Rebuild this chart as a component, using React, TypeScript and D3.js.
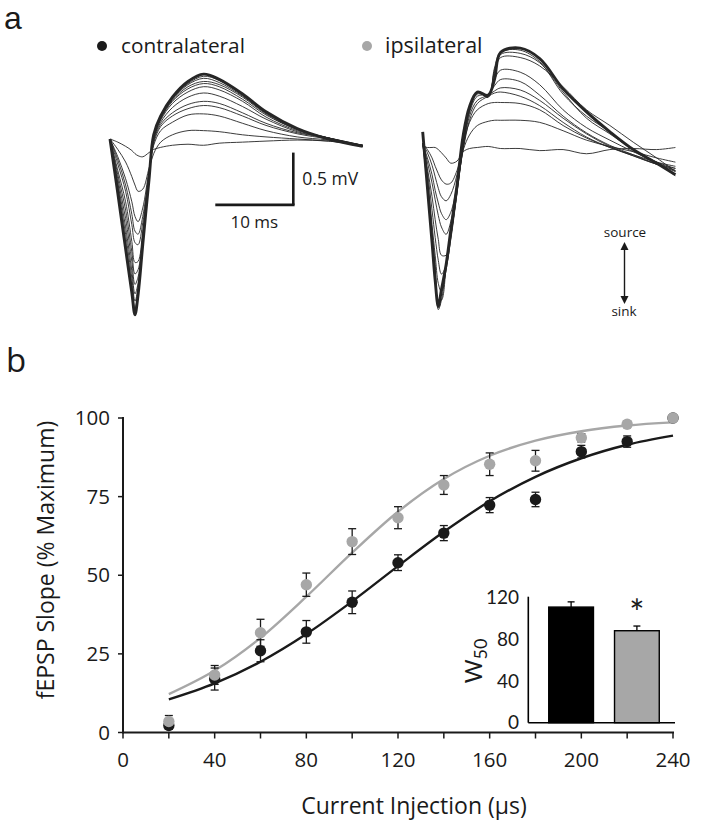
import React from 'react';
import * as d3 from 'd3';

// ---------- Panel a: field potential traces (time in ms, voltage in mV) ----------
const leftTime = [0, 1, 2, 2.8, 3.2, 3.6, 4.2, 5, 5.6, 6.5, 8, 10, 12, 14, 17, 20, 24, 28, 32.4];
const contraTraces = [
  [0, -0.03, -0.07, -0.11, -0.14, -0.16, -0.17, -0.13, -0.10, -0.08, -0.06, -0.05, -0.06, -0.04, -0.03, -0.02, -0.01, -0.02, -0.06],
  [0, -0.10, -0.22, -0.36, -0.44, -0.50, -0.48, -0.28, -0.14, -0.03, 0.04, 0.08, 0.08, 0.07, 0.04, 0.02, 0.00, -0.02, -0.06],
  [0, -0.17, -0.38, -0.60, -0.74, -0.79, -0.66, -0.30, -0.06, 0.08, 0.16, 0.23, 0.24, 0.22, 0.15, 0.08, 0.02, -0.01, -0.06],
  [0, -0.20, -0.44, -0.72, -0.88, -0.91, -0.74, -0.33, -0.04, 0.12, 0.22, 0.29, 0.32, 0.30, 0.22, 0.13, 0.05, 0.00, -0.06],
  [0, -0.24, -0.50, -0.82, -0.99, -1.01, -0.80, -0.34, -0.02, 0.14, 0.25, 0.33, 0.36, 0.34, 0.25, 0.15, 0.06, 0.01, -0.06],
  [0, -0.30, -0.60, -0.98, -1.18, -1.17, -0.88, -0.36, 0.00, 0.16, 0.30, 0.40, 0.44, 0.41, 0.31, 0.19, 0.07, 0.01, -0.06],
  [0, -0.34, -0.68, -1.08, -1.29, -1.25, -0.92, -0.37, 0.01, 0.18, 0.34, 0.45, 0.50, 0.47, 0.36, 0.21, 0.08, 0.01, -0.07],
  [0, -0.38, -0.76, -1.17, -1.39, -1.32, -0.95, -0.38, 0.02, 0.19, 0.36, 0.48, 0.53, 0.50, 0.38, 0.23, 0.09, 0.01, -0.07],
  [0, -0.42, -0.84, -1.26, -1.48, -1.38, -0.97, -0.38, 0.02, 0.20, 0.37, 0.50, 0.55, 0.52, 0.40, 0.24, 0.09, 0.01, -0.07],
  [0, -0.45, -0.91, -1.33, -1.55, -1.42, -0.99, -0.39, 0.03, 0.21, 0.38, 0.52, 0.58, 0.54, 0.41, 0.25, 0.10, 0.00, -0.07],
  [0, -0.49, -0.98, -1.40, -1.62, -1.46, -1.00, -0.39, 0.03, 0.22, 0.39, 0.53, 0.60, 0.56, 0.42, 0.25, 0.10, 0.00, -0.07],
];
const contraThick = [0, -0.52, -1.05, -1.47, -1.68, -1.49, -1.01, -0.39, 0.04, 0.22, 0.40, 0.55, 0.62, 0.57, 0.43, 0.26, 0.10, 0.00, -0.07];

const rightTime = [0, 0.6, 1.2, 1.6, 2.0, 2.4, 3.0, 3.6, 4.4, 5.2, 6.0, 7.0, 8.4, 9.2, 10, 12.5, 15, 18, 21, 24, 27, 30, 32.4];
const ipsiTraces = [
  [-0.03, -0.04, -0.04, -0.04, -0.06, -0.09, -0.14, -0.19, -0.17, -0.08, -0.05, -0.04, -0.03, -0.04, -0.05, -0.05, -0.07, -0.06, -0.10, -0.06, -0.05, -0.06, -0.04],
  [0.00, -0.06, -0.14, -0.22, -0.29, -0.35, -0.39, -0.38, -0.26, -0.06, 0.08, 0.17, 0.21, 0.22, 0.22, 0.22, 0.20, 0.12, 0.03, -0.03, -0.08, -0.14, -0.18],
  [0.00, -0.09, -0.21, -0.32, -0.43, -0.51, -0.55, -0.49, -0.30, -0.02, 0.20, 0.32, 0.38, 0.39, 0.39, 0.38, 0.32, 0.17, 0.05, -0.04, -0.11, -0.18, -0.22],
  [0.00, -0.14, -0.30, -0.45, -0.57, -0.67, -0.73, -0.66, -0.40, -0.06, 0.22, 0.38, 0.45, 0.48, 0.49, 0.45, 0.36, 0.20, 0.06, -0.04, -0.12, -0.20, -0.26],
  [0.00, -0.18, -0.38, -0.54, -0.69, -0.80, -0.87, -0.75, -0.43, -0.04, 0.26, 0.41, 0.46, 0.50, 0.53, 0.51, 0.41, 0.24, 0.09, -0.03, -0.12, -0.20, -0.24],
  [0.00, -0.24, -0.51, -0.73, -0.92, -1.07, -1.07, -0.88, -0.47, -0.03, 0.29, 0.45, 0.47, 0.55, 0.61, 0.59, 0.46, 0.26, 0.10, -0.02, -0.11, -0.20, -0.27],
  [0.00, -0.27, -0.64, -0.90, -1.12, -1.25, -1.17, -0.92, -0.48, -0.02, 0.31, 0.47, 0.46, 0.61, 0.70, 0.68, 0.56, 0.32, 0.15, 0.03, -0.08, -0.18, -0.24],
  [0.00, -0.33, -0.78, -1.07, -1.34, -1.42, -1.21, -0.91, -0.46, 0.01, 0.32, 0.48, 0.45, 0.68, 0.82, 0.82, 0.74, 0.54, 0.32, 0.17, 0.01, -0.14, -0.27],
  [0.00, -0.37, -0.85, -1.16, -1.50, -1.50, -1.19, -0.86, -0.43, 0.03, 0.34, 0.49, 0.44, 0.70, 0.85, 0.86, 0.77, 0.49, 0.24, 0.09, -0.06, -0.19, -0.31],
  [0.00, -0.41, -0.91, -1.23, -1.59, -1.50, -1.17, -0.85, -0.43, 0.05, 0.34, 0.49, 0.44, 0.72, 0.87, 0.89, 0.78, 0.47, 0.26, 0.11, -0.06, -0.18, -0.26],
];
const ipsiThick = [0.11, -0.42, -0.95, -1.31, -1.56, -1.40, -1.16, -0.83, -0.40, 0.08, 0.35, 0.49, 0.46, 0.61, 0.87, 0.91, 0.81, 0.52, 0.30, 0.11, -0.06, -0.19, -0.30];

const scaleBarMs = 10;
const scaleBarMv = 0.5;

// ---------- Panel b: input/output curve ----------
const currents = [20, 40, 60, 80, 100, 120, 140, 160, 180, 200, 220, 240];
const contraMean = [2.2, 17, 26, 32, 41.4, 54, 63.4, 72.3, 74.1, 89.3, 92.5, 100];
const contraSem = [1.2, 3.5, 3.5, 3.6, 3.6, 2.5, 2.4, 2.4, 2.3, 2.0, 1.8, 0];
const ipsiMean = [3.5, 18.3, 31.7, 47, 60.7, 68.3, 78.7, 85.3, 86.4, 93.7, 98, 100];
const ipsiSem = [1.9, 3.0, 4.3, 3.7, 4.1, 3.5, 3.0, 3.6, 3.3, 1.3, 1.0, 0.5];
const contraFit = [10.5, 15.6, 22.5, 31.3, 41.7, 52.9, 63.8, 73.5, 81.3, 87.2, 91.5, 94.4];
const ipsiFit = [12.2, 19.7, 30.1, 43.2, 57.2, 70.2, 80.6, 88.0, 92.8, 95.8, 97.6, 98.6];
const xTicks = [0, 20, 40, 60, 80, 100, 120, 140, 160, 180, 200, 220, 240];
const xLabels = [0, 40, 80, 120, 160, 200, 240];
const yTicks = [0, 25, 50, 75, 100];

// ---------- Inset: W50 ----------
const w50Groups = ['contralateral', 'ipsilateral'];
const w50Mean = [111, 88.3];
const w50Sem = [5, 4.5];
const w50Ticks = [0, 40, 80, 120];

const BLACK = '#1a1a1a';
const GRAY = '#a7a7a7';
const FONT = "'Open Sans', 'Noto Sans', sans-serif";
const INSET_FONT = "Lato, 'Open Sans', sans-serif";

export default function App() {
  // Panel a scales
  const pxPerMs = 7.8;
  const pxPerMv = 104.6;
  const lx = d3.scaleLinear().domain([0, 32.4]).range([110, 110 + pxPerMs * 32.4]);
  const ly = d3.scaleLinear().domain([0, 1]).range([139, 139 - pxPerMv]);
  const rx = d3.scaleLinear().domain([0, 32.4]).range([422.7, 422.7 + pxPerMs * 32.4]);
  const ry = d3.scaleLinear().domain([0, 1]).range([143.3, 143.3 - pxPerMv]);

  const traceLine = (xs: d3.ScaleLinear<number, number>, ys: d3.ScaleLinear<number, number>, t: number[]) =>
    d3.line<number>()
      .x((_, i) => xs(t[i]))
      .y((v) => ys(v))
      .curve(d3.curveCatmullRom.alpha(0.5));

  const leftLine = traceLine(lx, ly, leftTime);
  const rightLine = traceLine(rx, ry, rightTime);

  // Panel b scales
  const x = d3.scaleLinear().domain([0, 240]).range([123, 673]);
  const y = d3.scaleLinear().domain([0, 100]).range([732.5, 418]);
  const fitLine = d3.line<number>()
    .x((_, i) => x(currents[i]))
    .y((v) => y(v))
    .curve(d3.curveMonotoneX);

  // Inset scales
  const ix = d3.scaleBand<string>().domain(w50Groups).range([529, 679]).paddingInner(0.32).paddingOuter(0.3);
  const iy = d3.scaleLinear().domain([0, 120]).range([722.7, 597.7]);

  const sbT0 = 13.5;
  const sbV = -0.63;

  const renderSeries = (means: number[], sems: number[], color: string, key: string) => (
    <g key={key}>
      {means.map((m, i) => {
        const cx = x(currents[i]);
        const top = y(m + sems[i]);
        const bot = y(m - sems[i]);
        return (
          <g key={i}>
            {sems[i] > 0 && (
              <g stroke={BLACK} strokeWidth={1.3}>
                <line x1={cx} x2={cx} y1={top} y2={bot} />
                <line x1={cx - 4} x2={cx + 4} y1={top} y2={top} />
                <line x1={cx - 4} x2={cx + 4} y1={bot} y2={bot} />
              </g>
            )}
            <circle cx={cx} cy={y(m)} r={5.7} fill={color} />
          </g>
        );
      })}
    </g>
  );

  return (
    <svg width={704} height={832} style={{ position: 'absolute', left: 0, top: 0, background: '#fff' }}
      fontFamily={FONT}>
      <rect width={704} height={832} fill="#fff" />
      {/* Panel labels */}
      <text x={4} y={29} fontSize={32} fontFamily="'Liberation Sans', Arial, sans-serif" fill={BLACK}>a</text>
      <text x={6} y={372} fontSize={33} fill={BLACK}>b</text>

      {/* Legend */}
      <circle cx={102} cy={46} r={5} fill={BLACK} />
      <text x={121} y={53} fontSize={20.8} fill={BLACK}>contralateral</text>
      <circle cx={367} cy={46} r={5} fill={GRAY} />
      <text x={385} y={53} fontSize={21.5} fill={BLACK}>ipsilateral</text>

      {/* Left traces */}
      <g fill="none" stroke="#262626" strokeLinejoin="round">
        {contraTraces.map((tr, i) => (
          <path key={i} d={leftLine(tr) || ''} strokeWidth={0.9} />
        ))}
        <path d={leftLine(contraThick) || ''} strokeWidth={2.9} />
      </g>
      {/* Right traces */}
      <g fill="none" stroke="#262626" strokeLinejoin="round">
        {ipsiTraces.map((tr, i) => (
          <path key={i} d={rightLine(tr) || ''} strokeWidth={0.9} />
        ))}
        <path d={rightLine(ipsiThick) || ''} strokeWidth={2.9} />
      </g>

      {/* Scale bar */}
      <g stroke={BLACK} strokeWidth={2.6} fill="none">
        <line x1={lx(sbT0)} x2={lx(sbT0 + scaleBarMs) + 1.3} y1={ly(sbV)} y2={ly(sbV)} />
        <line x1={lx(sbT0 + scaleBarMs)} x2={lx(sbT0 + scaleBarMs)} y1={ly(sbV)} y2={ly(sbV + scaleBarMv)} />
      </g>
      <text x={lx(sbT0 + scaleBarMs) + 9} y={ly(sbV + scaleBarMv / 2) + 6} fontSize={17.5} fill={BLACK}>0.5 mV</text>
      <text x={lx(sbT0 + scaleBarMs / 2)} y={ly(sbV) + 23} fontSize={17} fill={BLACK} textAnchor="middle">10 ms</text>

      {/* source / sink arrow */}
      <text x={625} y={237} fontSize={13.5} fill={BLACK} textAnchor="middle">source</text>
      <text x={624} y={316} fontSize={13.5} fill={BLACK} textAnchor="middle">sink</text>
      <g stroke={BLACK} strokeWidth={1.4}>
        <line x1={624.5} x2={624.5} y1={246} y2={300} />
      </g>
      <path d="M624.5,242 L620.5,250 L628.5,250 Z" fill={BLACK} />
      <path d="M624.5,304 L620.5,296 L628.5,296 Z" fill={BLACK} />

      {/* Panel b axes */}
      <g stroke={BLACK} strokeWidth={2} fill="none">
        <line x1={x(0)} x2={x(240) + 1} y1={y(0)} y2={y(0)} />
        <line x1={x(0)} x2={x(0)} y1={y(0) + 1} y2={y(100) - 1} />
        {xTicks.map((t) => (
          <line key={t} x1={x(t)} x2={x(t)} y1={y(0)} y2={y(0) + 6} strokeWidth={1.5} />
        ))}
        {yTicks.map((t) => (
          <line key={t} x1={x(0) - 5} x2={x(0)} y1={y(t)} y2={y(t)} strokeWidth={1.5} />
        ))}
      </g>
      {xLabels.map((t) => (
        <text key={t} x={x(t)} y={767} fontSize={20.5} textAnchor="middle" fill={BLACK}>{t}</text>
      ))}
      {yTicks.map((t) => (
        <text key={t} x={110} y={y(t) + 7} fontSize={20.5} textAnchor="end" fill={BLACK}>{t}</text>
      ))}
      <text x={414} y={814} fontSize={23} textAnchor="middle" fill={BLACK}>Current Injection (μs)</text>
      <text transform="translate(54,560) rotate(-90)" fontSize={23} textAnchor="middle" fill={BLACK}>
        fEPSP Slope (% Maximum)
      </text>

      {/* Fit curves */}
      <path d={fitLine(ipsiFit) || ''} fill="none" stroke={GRAY} strokeWidth={2.4} />
      <path d={fitLine(contraFit) || ''} fill="none" stroke={BLACK} strokeWidth={2.4} />

      {renderSeries(contraMean, contraSem, BLACK, 'contra')}
      {renderSeries(ipsiMean, ipsiSem, GRAY, 'ipsi')}

      {/* Inset */}
      <g fontFamily={INSET_FONT}>
        {w50Groups.map((g, i) => {
          const bx = ix(g) as number;
          const bw = ix.bandwidth();
          const cx = bx + bw / 2;
          return (
            <g key={g}>
              <rect x={bx} y={iy(w50Mean[i])} width={bw} height={iy(0) - iy(w50Mean[i])}
                fill={i === 0 ? '#000' : GRAY} stroke="#000" strokeWidth={1.4} />
              <line x1={cx} x2={cx} y1={iy(w50Mean[i])} y2={iy(w50Mean[i] + w50Sem[i])} stroke="#000" strokeWidth={1.3} />
              <line x1={cx - 3.5} x2={cx + 3.5} y1={iy(w50Mean[i] + w50Sem[i])} y2={iy(w50Mean[i] + w50Sem[i])} stroke="#000" strokeWidth={1.3} />
            </g>
          );
        })}
        <g stroke="#000" strokeWidth={1.6}>
          <line x1={528.3} x2={528.3} y1={iy(0)} y2={iy(120) - 1} />
          <line x1={528.3} x2={675} y1={iy(0)} y2={iy(0)} />
        </g>
        {w50Ticks.map((t) => (
          <text key={t} x={519} y={iy(t) + 6.5} fontSize={19} textAnchor="end" fill={BLACK}>{t}</text>
        ))}
        <text transform={`translate(482,661) rotate(-90)`} fontSize={23} textAnchor="middle" fill={BLACK}>
          W<tspan fontSize={18} dy={5}>50</tspan>
        </text>
        <text x={(ix('ipsilateral') as number) + ix.bandwidth() / 2} y={626} fontSize={36} textAnchor="middle" fill={BLACK}>*</text>
      </g>
    </svg>
  );
}
